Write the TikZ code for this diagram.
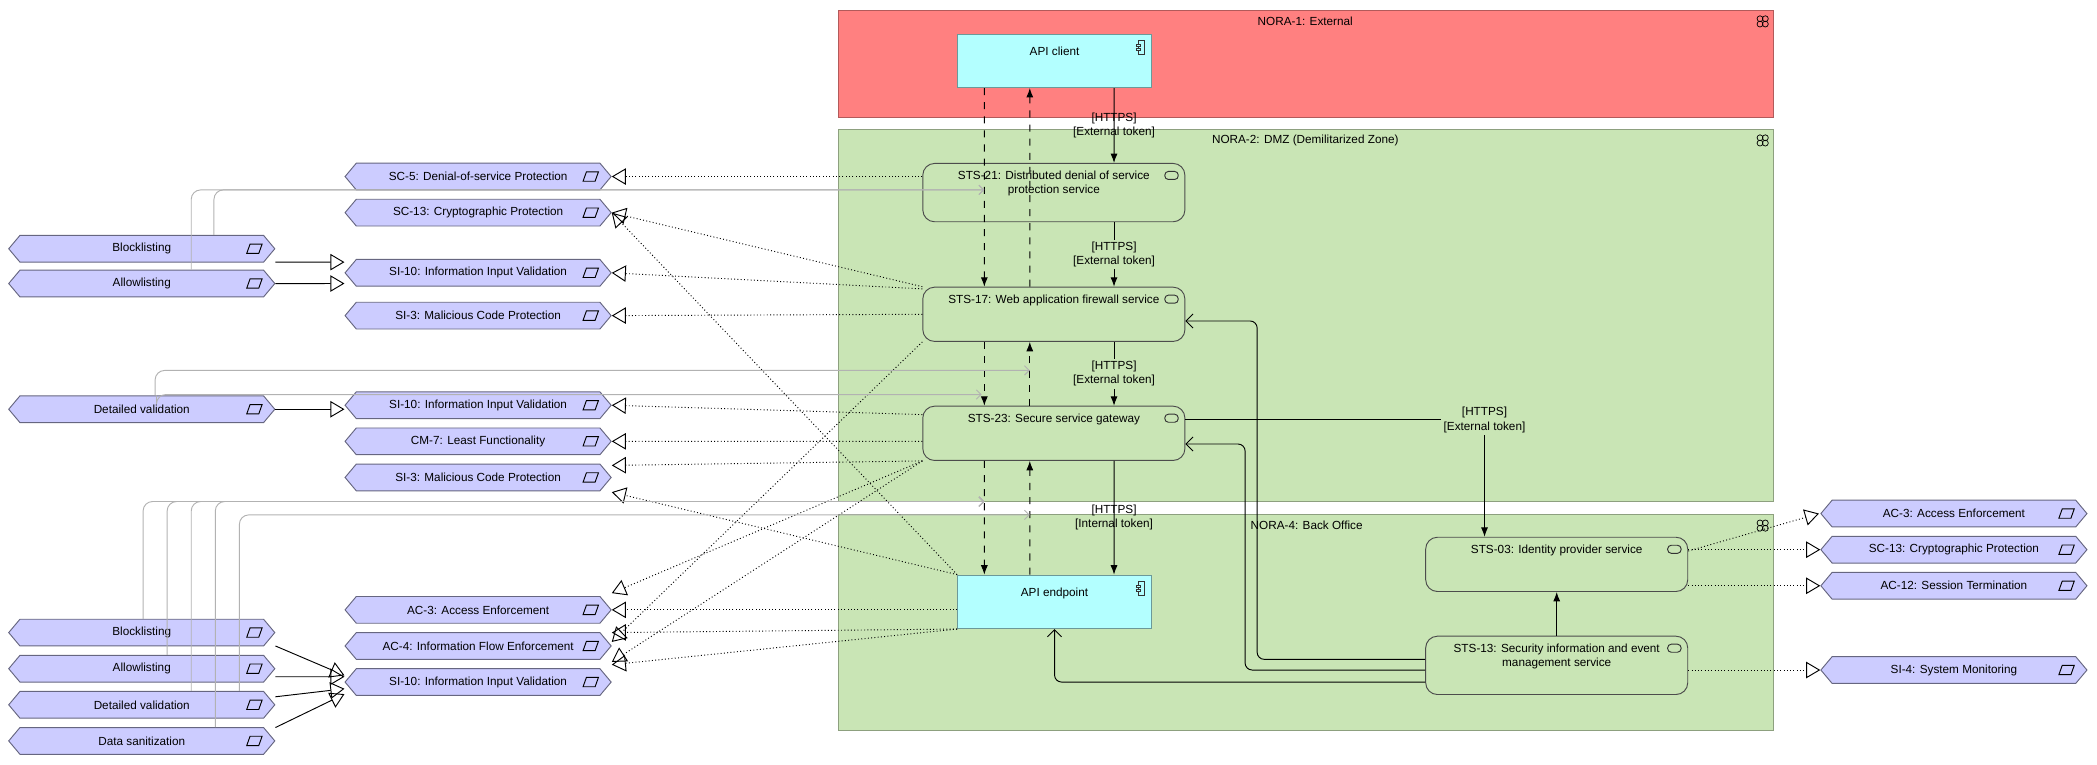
\documentclass[tikz,border=0pt]{standalone}
\usepackage{fontspec}
\setmainfont{Liberation Sans}
\usetikzlibrary{shapes.symbols,arrows.meta}
\definecolor{extred}{HTML}{FF8080}
\definecolor{zonegreen}{HTML}{C9E5B5}
\definecolor{appcyan}{HTML}{B3FFFF}
\definecolor{reqblue}{HTML}{CCCCFF}
\tikzset{
  zone/.style={draw=#1!70!black, fill=#1, line width=0.4pt},
  svc/.style={draw=black!70, fill=zonegreen, rounded corners=5pt, minimum width=3.92cm, minimum height=0.8cm,
    path picture={\draw[black!80, rounded corners=1.5pt] ([xshift=-0.3cm,yshift=-0.12cm]path picture bounding box.north east) rectangle ++(0.2cm,-0.12cm);}},
  comp/.style={draw=appcyan!60!black, fill=appcyan, minimum width=2.9cm, minimum height=0.8cm,
    path picture={\draw[black!80] ([xshift=-0.2cm,yshift=-0.1cm]path picture bounding box.north east) rectangle ++(0.1cm,-0.2cm);
                  \draw[black!80, fill=appcyan] ([xshift=-0.23cm,yshift=-0.15cm]path picture bounding box.north east) rectangle ++(0.06cm,-0.03cm);
                  \draw[black!80, fill=appcyan] ([xshift=-0.23cm,yshift=-0.22cm]path picture bounding box.north east) rectangle ++(0.06cm,-0.03cm);}},
  req/.style={signal, signal to=west and east, signal pointer angle=100, draw=reqblue!50!black, fill=reqblue,
    minimum width=3.98cm, minimum height=0.4cm, inner sep=0pt,
    path picture={\draw[black] ([xshift=-0.42cm,yshift=-0.07cm]path picture bounding box.east) -- ++(0.18cm,0pt) -- ++(0.05cm,0.14cm) -- ++(-0.18cm,0pt) -- cycle;}},
  real/.style={densely dotted, -{Triangle[open,length=6pt,width=7pt]}},
  spec/.style={-{Triangle[open,length=6pt,width=7pt]}},
  flow/.style={dashed, -{Latex[length=4pt]}},
  serv/.style={-{Latex[length=4pt]}},
  acc/.style={rounded corners=3pt, -{Straight Barb[length=3pt]}},
  assoc/.style={gray!60, rounded corners=4pt, -{Straight Barb[length=2pt]}},
  lbl/.style={align=center, font=\fontsize{5}{6}\selectfont, inner sep=1pt}
}
\begin{document}
\begin{tikzpicture}[x=0.02cm, y=-0.02cm, font=\fontsize{5}{6}\selectfont]
  \useasboundingbox (0,0) rectangle (1568,572);
  % zones
  \draw [zone=extred]    (627,8)   rectangle (1326,88);          %NORA-1
  \draw [zone=zonegreen] (627,97)  rectangle (1326,375);         %NORA-2
  \draw [zone=zonegreen] (627,385) rectangle (1326,546);         %NORA-4
  \node at (976,16)      {NORA-1: External};
  \node at (976,105)     {NORA-2: DMZ (Demilitarized Zone)};
  \node at (977,393)     {NORA-4: Back Office};
  \foreach \gy in {16,105,393}                                    % group icons
    \foreach \cx/\cy in {-2/-2,2/-2,-2/2,2/2}
      \draw [line width=0.3pt] (1318+\cx,\gy+\cy) circle (2.2);
  % application elements
  \node [comp, label={[anchor=north,yshift=-2pt]north:API client}]   (client)   at (788.5,45.5) {};
  \node [comp, label={[anchor=north,yshift=-2pt]north:API endpoint}] (endpoint) at (788.5,450)  {};
  \node [svc, align=center, text depth=0.3cm] (sts21) at (788,144)   {STS-21: Distributed denial of service\\protection service};
  \node [svc, text depth=0.45cm]              (sts17) at (788,235)   {STS-17: Web application firewall service};
  \node [svc, text depth=0.45cm]              (sts23) at (788,324)   {STS-23: Secure service gateway};
  \node [svc, text depth=0.45cm]              (sts03) at (1164,422)  {STS-03: Identity provider service};
  \node [svc, align=center, text depth=0.3cm] (sts13) at (1164,497.5){STS-13: Security information and event\\management service};
  % requirements
  \node [req] (sc5)   at (357.5,132) {SC-5: Denial-of-service Protection};
  \node [req] (sc13a) at (357.5,159) {SC-13: Cryptographic Protection};
  \node [req] (si10a) at (357.5,204) {SI-10: Information Input Validation};
  \node [req] (si3a)  at (357.5,236) {SI-3: Malicious Code Protection};
  \node [req] (si10b) at (357.5,303) {SI-10: Information Input Validation};
  \node [req] (cm7)   at (357.5,330) {CM-7: Least Functionality};
  \node [req] (si3b)  at (357.5,357) {SI-3: Malicious Code Protection};
  \node [req] (ac3a)  at (357.5,456) {AC-3: Access Enforcement};
  \node [req] (ac4)   at (357.5,483) {AC-4: Information Flow Enforcement};
  \node [req] (si10c) at (357.5,510) {SI-10: Information Input Validation};
  \node [req] (bl1)   at (106,186)   {Blocklisting};
  \node [req] (al1)   at (106,212)   {Allowlisting};
  \node [req] (dv1)   at (106,306)   {Detailed validation};
  \node [req] (bl2)   at (106,473)   {Blocklisting};
  \node [req] (al2)   at (106,500)   {Allowlisting};
  \node [req] (dv2)   at (106,527)   {Detailed validation};
  \node [req] (ds)    at (106,554)   {Data sanitization};
  \node [req] (ac3b)  at (1461,384)  {AC-3: Access Enforcement};
  \node [req] (sc13b) at (1461,411)  {SC-13: Cryptographic Protection};
  \node [req] (ac12)  at (1461,438)  {AC-12: Session Termination};
  \node [req] (si4)   at (1461,501)  {SI-4: System Monitoring};
  % request chain
  \draw [serv] ([xshift=0.89cm]client.south) -- node[lbl]{{[HTTPS]}\\{[External token]}} ([xshift=0.9cm]sts21.north);
  \draw [serv] ([xshift=0.9cm]sts21.south)   -- node[lbl,fill=zonegreen]{{[HTTPS]}\\{[External token]}} ([xshift=0.9cm]sts17.north);
  \draw [serv] ([xshift=0.9cm]sts17.south)   -- node[lbl,fill=zonegreen]{{[HTTPS]}\\{[External token]}} ([xshift=0.9cm]sts23.north);
  \draw [serv] ([xshift=0.9cm]sts23.south)   -- node[lbl]{{[HTTPS]}\\{[Internal token]}} ([xshift=0.89cm]endpoint.north);
  \draw [serv] ([yshift=0.2cm]sts23.east) -| node[lbl,pos=0.5,fill=zonegreen]{{[HTTPS]}\\{[External token]}} ([xshift=-1.08cm]sts03.north);
  \draw [serv] (sts13.north) -- (sts03.south);
  % data flows
  \draw [flow] ([xshift=-1.05cm]client.south) -- ([xshift=-1.04cm]sts17.north);
  \draw [flow] ([xshift=-0.36cm]sts17.north)  -- ([xshift=-0.37cm]client.south);
  \draw [flow] ([xshift=-1.04cm]sts17.south)  -- ([xshift=-1.04cm]sts23.north);
  \draw [flow] ([xshift=-0.36cm]sts23.north)  -- ([xshift=-0.36cm]sts17.south);
  \draw [flow] ([xshift=-1.04cm]sts23.south)  -- ([xshift=-1.05cm]endpoint.north);
  \draw [flow] ([xshift=-0.37cm]endpoint.north) -- ([xshift=-0.36cm]sts23.south);
  % monitoring
  \draw [acc] ([yshift=0.09cm]sts13.west)  -| (940,240) -- ([yshift=-0.1cm]sts17.east);
  \draw [acc] ([yshift=-0.07cm]sts13.west) -| (931,332) -- ([yshift=-0.16cm]sts23.east);
  \draw [acc] ([yshift=-0.25cm]sts13.west) -| (endpoint.south);
  % realizations
  \draw [real] (sts21.west |- sc5.east) -- (sc5.east);
  \draw [real] (sts17.north west) -- (sc13a.east);
  \draw [real] ([yshift=0.38cm]sts17.west) -- (si10a.east);
  \draw [real] (sts17.west) -- (si3a.east);
  \draw [real] ([yshift=0.28cm]sts23.west) -- (si10b.east);
  \draw [real] ([yshift=-0.12cm]sts23.west) -- (cm7.east);
  \draw [real] (sts23.south west) -- ([yshift=0.18cm]si3b.east);
  \draw [real] (endpoint.north west) -- (sc13a.east);
  \draw [real] (endpoint.north west) -- ([yshift=-0.22cm]si3b.east);
  \draw [real] (endpoint.west |- ac3a.east) -- (ac3a.east);
  \draw [real] (endpoint.south west) -- ([yshift=0.2cm]ac4.east);
  \draw [real] (endpoint.south west) -- ([yshift=0.26cm]si10c.east);
  \draw [real] (sts23.south west) -- ([yshift=0.25cm]ac3a.east);
  \draw [real] (sts17.south west) -- ([yshift=0.06cm]ac4.east);
  \draw [real] (sts23.south west) -- ([yshift=0.3cm]si10c.east);
  \draw [real] ([yshift=0.2cm]sts03.east) -- ([xshift=-0.02cm]ac3b.west);
  \draw [real] (sts03.east |- sc13b.west) -- (sc13b.west);
  \draw [real] (sts03.east |- ac12.west) -- (ac12.west);
  \draw [real] (sts13.east |- si4.west) -- (si4.west);
  % specializations
  \draw [spec] ([yshift=-0.2cm]bl1.east) -- ([yshift=0.16cm]si10a.west);
  \draw [spec] (al1.east) -- ([yshift=-0.16cm]si10a.west);
  \draw [spec] (dv1.east) -- (si10b.west |- dv1.east);
  \draw [spec] ([yshift=-0.2cm]bl2.east) -- ([yshift=0.1cm]si10c.west);
  \draw [spec] ([yshift=-0.12cm]al2.east) -- ([yshift=0.08cm]si10c.west);
  \draw [spec] ([yshift=0.12cm]dv2.east) -- ([yshift=-0.1cm]si10c.west);
  \draw [spec] ([yshift=0.2cm]ds.east) -- ([yshift=-0.18cm]si10c.west);
  % associations to flows
  \coordinate (f21)  at (736,142);
  \coordinate (f17)  at (770,277);
  \coordinate (f17b) at (734,295);
  \coordinate (f23)  at (736,375);
  \coordinate (f23b) at (770,385);
  \draw [assoc] ([xshift=1.08cm]bl1.north) |- (f21);
  \draw [assoc] ([xshift=0.74cm]al1.north) |- (f21);
  \draw [assoc] ([xshift=0.2cm]dv1.north)  |- (f17);
  \draw [assoc] ([xshift=0.22cm]dv1.north) |- (f17b);
  \draw [assoc] ([xshift=0.02cm]bl2.north) |- (f23);
  \draw [assoc] ([xshift=0.38cm]al2.north) |- (f23);
  \draw [assoc] ([xshift=0.74cm]dv2.north) |- (f23);
  \draw [assoc] ([xshift=1.1cm]ds.north)   |- (f23);
  \draw [assoc] ([xshift=1.46cm]dv2.north) |- (f23b);
\end{tikzpicture}
\end{document}
